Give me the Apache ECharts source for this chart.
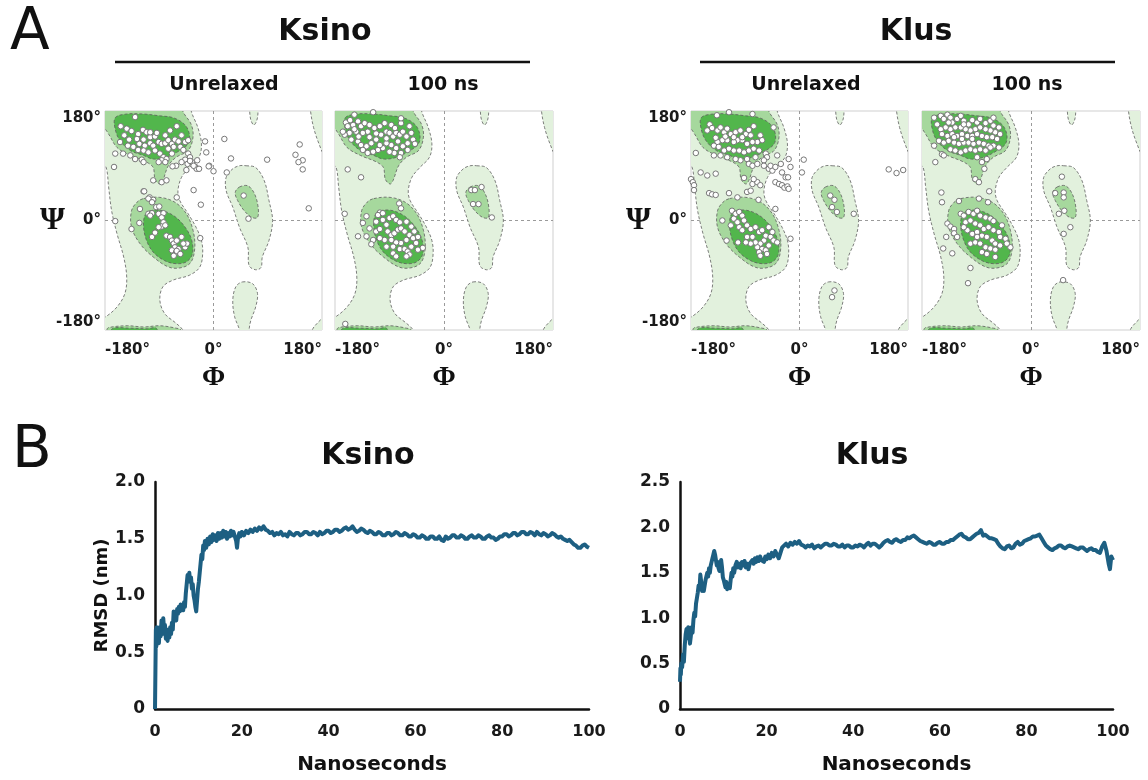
<!DOCTYPE html>
<html>
<head>
<meta charset="utf-8">
<script src="https://cdn.jsdelivr.net/npm/echarts@6.0.0/dist/echarts.min.js"></script>
<style>
  html, body { margin: 0; padding: 0; background: #fff; }
  #chart { width: 1148px; height: 780px; }
</style>
</head>
<body>
<div id="chart"></div>
<script>
// ---- axis ticks ----
const angleTicks = [-180, 0, 180];
const rmsdKsinoTicks = [0, 0.5, 1.0, 1.5, 2.0];
const rmsdKlusTicks = [0, 0.5, 1.0, 1.5, 2.0, 2.5];
const timeTicks = [0, 20, 40, 60, 80, 100];

// ---- Ramachandran background regions, [phi, psi] outlines in degrees ----
const allowedRegions = [
  [[-195,195],[-37,195],[-37,180],[-26,153],[-20,126],[-24,104],[-40,87],[-53,71],[-59,49],[-56,33],[-42,11],[-29,-11],[-20,-33],[-18,-55],[-23,-77],[-40,-90],[-67,-98],[-84,-109],[-89,-131],[-81,-153],[-62,-169],[-51,-180],[-48,-195],[-195,-195],[-195,-165],[-180,-159],[-160,-142],[-147,-120],[-144,-93],[-149,-60],[-160,-22],[-169,16],[-174,55],[-178,87],[-186,96]],
  [[161,195],[161,180],[166,153],[175,126],[185,105],[195,100],[195,195]],
  [[164,-195],[164,-180],[172,-169],[185,-158],[195,-158],[195,-195]],
  [[60,195],[60,180],[62,165],[67,157],[72,165],[74,180],[74,195]],
  [[54,90],[70,87],[84,66],[92,33],[98,0],[92,-33],[81,-60],[79,-77],[70,-81],[59,-74],[57,-44],[43,-11],[32,22],[21,49],[21,71],[32,85],[43,90]],
  [[48,-101],[65,-104],[73,-120],[70,-142],[62,-164],[59,-180],[59,-195],[43,-195],[43,-180],[35,-158],[32,-131],[37,-109]]
];
const favoredRegions = [
  [[-195,195],[-51,195],[-51,180],[-37,158],[-34,137],[-42,115],[-62,104],[-75,90],[-84,66],[-89,60],[-97,68],[-100,87],[-111,96],[-138,107],[-160,120],[-174,142],[-182,152],[-195,152]],
  [[-116,36],[-89,38],[-64,30],[-45,11],[-34,-16],[-31,-44],[-37,-68],[-51,-77],[-73,-77],[-100,-60],[-122,-38],[-136,-11],[-136,16],[-127,30]],
  [[-177,-195],[-177,-180],[-174,-176],[-143,-173],[-116,-175],[-89,-173],[-62,-177],[-54,-180],[-54,-195]],
  [[43,55],[57,57],[68,44],[74,22],[73,5],[64,5],[51,16],[40,33],[36,46]]
];
const coreRegions = [
  [[-163,169],[-144,175],[-116,175],[-89,172],[-67,169],[-48,158],[-40,142],[-42,126],[-56,115],[-78,104],[-100,101],[-116,107],[-138,115],[-155,131],[-163,150]],
  [[-105,16],[-84,16],[-62,5],[-45,-14],[-36,-33],[-35,-55],[-45,-68],[-62,-71],[-81,-66],[-100,-52],[-111,-33],[-116,-11],[-114,8]],
  [[-170,-195],[-168,-178],[-140,-177],[-110,-178],[-95,-177],[-92,-195]]
];

// ---- backbone dihedrals [phi, psi] per structure ----
const ksinoUnrelaxed = [
  [-130,170],[-154,155],[-144,151],[-148,140],[-136,147],[-125,142],[-117,149],[-111,145],[-127,134],[-116,133],
  [-105,137],[-97,138],[-123,126],[-114,123],[-105,127],[-100,123],[-91,129],[-86,126],[-80,127],[-75,132],
  [-69,126],[-64,133],[-58,130],[-72,148],[-61,155],[-53,140],[-47,129],[-133,121],[-125,116],[-116,115],
  [-108,112],[-97,115],[-89,110],[-83,104],[-78,101],[-86,99],[-91,96],[-80,96],[-69,110],[-66,121],
  [-55,121],[-50,116],[-42,110],[-39,104],[-47,100],[-53,96],[-43,93],[-36,96],[-30,88],[-28,85],
  [-62,90],[-68,89],[-45,83],[-163,110],[-150,110],[-138,107],[-130,101],[-119,100],[-116,96],[-165,88],
  [-100,66],[-86,63],[-78,66],[-142,123],[-155,129],[-75,118],[-140,133],[-105,145],[-94,144],[-80,140],
  [-42,132],[18,134],[-14,130],[29,102],[89,100],[143,125],[136,108],[148,99],[141,96],[148,84],
  [158,20],[22,79],[0,81],[-7,90],[-12,112],[-33,50],[-21,26],[-61,38],[50,41],[58,3],
  [-22,-29],[-163,-1],[-116,48],[-106,38],[-100,34],[-27,99],[-33,90],[-24,85],[-8,89],[-39,98],
  [-115,48],[-122,19],[-108,11],[-102,12],[-105,8],[-91,11],[-83,12],[-86,5],[-83,-3],[-86,-10],
  [-136,-14],[-123,-4],[-102,-27],[-97,-20],[-78,-25],[-72,-27],[-69,-33],[-66,-38],[-61,-33],[-64,-44],
  [-58,-47],[-69,-49],[-62,-52],[-53,-27],[-47,-44],[-80,-8],[-91,-11],[-95,22],[-90,23],[-108,36],
  [-102,30],[-61,-50],[-55,-55],[-66,-58],[-44,-38],[-50,-38]
];
const ksino100ns = [
  [-117,178],[-148,174],[-162,161],[-155,165],[-150,157],[-142,163],[-137,155],[-131,160],[-123,157],[-115,152],
  [-126,146],[-134,144],[-145,146],[-156,144],[-164,141],[-167,146],[-153,133],[-142,130],[-137,124],[-128,122],
  [-120,127],[-112,133],[-104,141],[-95,146],[-90,144],[-84,138],[-79,144],[-73,141],[-68,146],[-71,160],
  [-71,168],[-57,155],[-54,144],[-51,133],[-48,126],[-60,127],[-68,122],[-79,119],[-87,124],[-95,127],
  [-101,119],[-109,116],[-117,113],[-126,111],[-134,116],[-123,137],[-106,155],[-98,160],[-87,157],[-81,152],
  [-76,130],[-71,111],[-82,111],[-90,113],[-73,104],[-106,124],[-95,135],[-148,150],[-159,155],[-141,138],
  [-62,138],[-60,116],[-112,143],
  [-159,84],[-137,71],[-164,11],[-163,-170],[-74,28],[-71,20],[-142,-26],
  [45,50],[51,50],[62,55],[48,27],[57,27],[79,5],
  [-106,13],[-109,9],[-101,12],[-128,7],[-134,-4],[-123,-13],[-128,-26],[-117,-32],[-120,-39],[-112,-18],
  [-106,-14],[-101,1],[-95,-7],[-90,4],[-84,7],[-79,1],[-73,-3],[-93,-18],[-87,-24],[-82,-21],
  [-76,-15],[-71,-13],[-65,-18],[-57,-24],[-51,-29],[-62,-32],[-71,-37],[-79,-36],[-84,-43],[-73,-47],
  [-65,-47],[-60,-51],[-54,-43],[-46,-37],[-43,-48],[-57,-56],[-62,-59],[-35,-45],[-84,-54],[-98,-32],
  [-95,-43],[-106,-29],[-112,-2],[-87,-32],[-49,-18],[-54,-10],[-62,-2],[-43,-27],[-79,-59]
];
const klusUnrelaxed = [
  [-137,173],[-117,178],[-78,175],[-149,158],[-145,152],[-153,148],[-136,148],[-131,153],[-125,145],[-120,151],
  [-114,142],[-106,145],[-98,148],[-89,142],[-81,140],[-76,155],[-65,140],[-62,132],[-70,129],[-78,129],
  [-87,126],[-95,132],[-103,132],[-109,129],[-120,132],[-128,132],[-136,129],[-142,123],[-134,121],[-125,115],
  [-117,118],[-109,115],[-100,115],[-92,112],[-84,115],[-76,118],[-67,115],[-56,110],[-54,104],[-59,99],
  [-73,104],[-87,101],[-98,99],[-106,101],[-120,104],[-131,107],[-142,107],[-43,153],[-95,137],[-109,137],
  [-123,138],[-84,93],[-78,90],[-70,93],[-59,90],[-84,149],[-139,136],
  [-172,111],[-164,79],[-153,74],[-139,77],[-180,68],[-177,63],[-175,58],[-175,50],[-150,45],[-145,43],
  [-139,42],[-117,45],[-103,38],[-87,47],[-81,49],[-78,60],[-70,63],[-65,58],[-76,68],[-92,70],
  [-51,85],[-45,82],[-48,90],[-40,88],[-37,107],[-31,93],[-29,79],[-18,101],[-15,88],[-23,71],
  [-19,71],[-40,63],[-34,60],[-29,58],[-25,54],[-20,56],[-18,52],[-68,34],[-40,19],[-15,-30],
  [7,100],[4,79],[148,84],[161,78],[172,83],[90,11],
  [51,41],[58,34],[54,22],[62,14],[58,-115],[54,-126],
  [-112,16],[-106,11],[-100,14],[-109,3],[-103,-3],[-95,8],[-92,0],[-100,-11],[-95,-16],[-87,-8],
  [-81,-14],[-73,-11],[-67,-19],[-62,-16],[-56,-25],[-51,-11],[-48,-27],[-43,-33],[-37,-36],[-59,-33],
  [-65,-38],[-70,-44],[-62,-47],[-56,-49],[-67,-52],[-73,-36],[-81,-38],[-87,-27],[-89,-36],[-78,-27],
  [-54,-55],[-128,0],[-121,-33],[-102,-36],[-114,-8],[-51,-41],[-65,-58],[-45,-19]
];
const klus100ns = [
  [-160,169],[-149,172],[-144,167],[-138,174],[-133,169],[-130,161],[-122,167],[-116,172],[-111,164],[-103,158],
  [-97,165],[-89,161],[-84,167],[-75,160],[-67,164],[-62,156],[-53,153],[-59,145],[-67,148],[-75,150],
  [-84,153],[-92,150],[-100,148],[-108,150],[-116,153],[-125,153],[-133,150],[-141,153],[-149,150],[-155,158],
  [-147,142],[-138,139],[-130,142],[-122,139],[-114,142],[-105,139],[-97,139],[-89,142],[-81,139],[-73,137],
  [-64,137],[-56,134],[-51,142],[-152,131],[-144,128],[-136,131],[-127,128],[-119,126],[-111,128],[-103,128],
  [-95,126],[-86,128],[-78,126],[-70,123],[-62,123],[-53,120],[-133,117],[-125,115],[-116,112],[-108,115],
  [-100,117],[-92,115],[-84,117],[-75,115],[-67,120],[-160,123],[-147,109],[-158,96],[-144,107],[-89,104],
  [-81,96],[-73,101],[-77,85],[-92,68],[-86,63],[-127,137],[-111,158],[-136,161],[-62,169],[-97,134],
  [-114,134],
  [-148,46],[-147,30],[-69,48],[-86,36],[-71,30],[-119,32],[-140,-27],[-145,-46],[-130,-54],[-100,-78],
  [-104,-103],[51,72],[65,-11],[54,-22],[53,-98],
  [40,45],[54,46],[54,38],[46,11],[55,16],
  [-138,-5],[-133,-10],[-127,-14],[-127,-21],[-122,-27],[-116,11],[-111,8],[-103,14],[-95,11],[-89,16],
  [-84,8],[-75,5],[-67,3],[-62,-1],[-108,-3],[-100,0],[-92,-5],[-84,-8],[-78,-14],[-70,-11],
  [-62,-16],[-53,-19],[-51,-27],[-42,-30],[-34,-44],[-105,-16],[-97,-22],[-89,-19],[-81,-25],[-73,-27],
  [-64,-33],[-59,-38],[-51,-41],[-40,-38],[-100,-38],[-92,-36],[-84,-38],[-75,-44],[-67,-46],[-59,-48],
  [-81,-52],[-73,-55],[-59,-60],[-89,-27],[-111,-11],[-48,-8]
];

// ---- backbone RMSD over the trajectory, [time (ns), RMSD (nm)] ----
const ksinoRmsd = [
  [0,0],[0.1,0.35],[0.2,0.7],[0.3,0.55],[0.4,0.72],[0.5,0.62],[0.7,0.68],[0.9,0.58],[1.1,0.72],[1.3,0.64],
  [1.5,0.78],[1.7,0.66],[1.9,0.8],[2.1,0.7],[2.3,0.74],[2.5,0.62],[2.7,0.68],[2.9,0.6],[3.1,0.7],[3.3,0.63],
  [3.5,0.72],[3.7,0.66],[3.9,0.76],[4.1,0.7],[4.3,0.86],[4.5,0.8],[4.7,0.84],[4.9,0.78],[5.1,0.88],[5.3,0.84],
  [5.5,0.9],[5.7,0.86],[5.9,0.92],[6.1,0.88],[6.3,0.91],[6.5,0.87],[6.7,0.94],[6.9,0.9],[7.1,1.02],[7.3,1.1],
  [7.5,1.18],[7.7,1.14],[7.9,1.2],[8.1,1.12],[8.3,1.16],[8.5,1.06],[8.7,1.1],[8.9,1.0],[9.1,0.96],[9.3,0.9],
  [9.5,0.86],[9.7,0.96],[9.9,1.06],[10.1,1.12],[10.3,1.2],[10.5,1.28],[10.7,1.36],[10.9,1.32],[11.1,1.44],[11.3,1.4],
  [11.5,1.48],[11.8,1.42],[12.1,1.5],[12.4,1.45],[12.7,1.52],[13,1.47],[13.3,1.54],[13.6,1.49],[13.9,1.53],[14.2,1.48],
  [14.5,1.55],[14.8,1.5],[15.1,1.55],[15.4,1.51],[15.7,1.57],[16,1.52],[16.3,1.56],[16.6,1.5],[16.9,1.55],[17.2,1.52],
  [17.5,1.57],[17.8,1.53],[18.1,1.56],[18.4,1.52],[18.7,1.48],[18.9,1.42],[19.1,1.5],[19.4,1.55],[19.7,1.52],[20,1.56],
  [20.5,1.53],[21,1.57],[21.5,1.55],[22,1.58],[22.5,1.56],[23,1.59],[23.5,1.57],[24,1.6],[24.5,1.58],[25,1.61],
  [25.5,1.58],[26,1.57],[26.5,1.55],[27,1.56],[27.5,1.53],[28,1.55],[28.5,1.54],[29,1.56],[29.5,1.53],[30,1.54],
  [30.5,1.52],[31,1.56],[31.5,1.54],[32,1.53],[32.5,1.55],[33,1.55],[33.5,1.53],[34,1.54],[34.5,1.56],[35,1.56],
  [35.5,1.54],[36,1.54],[36.5,1.56],[37,1.55],[37.5,1.53],[38,1.56],[38.5,1.54],[39,1.55],[39.5,1.57],[40,1.57],
  [40.5,1.55],[41,1.56],[41.5,1.58],[42,1.58],[42.5,1.56],[43,1.57],[43.5,1.59],[44,1.6],[44.5,1.58],[45,1.59],
  [45.5,1.61],[46,1.58],[46.5,1.56],[47,1.57],[47.5,1.59],[48,1.58],[48.5,1.56],[49,1.55],[49.5,1.57],[50,1.56],
  [50.5,1.54],[51,1.54],[51.5,1.56],[52,1.55],[52.5,1.53],[53,1.53],[53.5,1.55],[54,1.55],[54.5,1.53],[55,1.54],
  [55.5,1.56],[56,1.55],[56.5,1.53],[57,1.53],[57.5,1.55],[58,1.54],[58.5,1.52],[59,1.52],[59.5,1.54],[60,1.53],
  [60.5,1.51],[61,1.51],[61.5,1.53],[62,1.52],[62.5,1.5],[63,1.5],[63.5,1.52],[64,1.52],[64.5,1.5],[65,1.5],
  [65.5,1.52],[66,1.49],[66.5,1.48],[67,1.52],[67.5,1.5],[68,1.51],[68.5,1.53],[69,1.53],[69.5,1.51],[70,1.51],
  [70.5,1.53],[71,1.52],[71.5,1.5],[72,1.5],[72.5,1.52],[73,1.53],[73.5,1.51],[74,1.51],[74.5,1.53],[75,1.52],
  [75.5,1.5],[76,1.5],[76.5,1.52],[77,1.53],[77.5,1.51],[78,1.51],[78.5,1.49],[79,1.5],[79.5,1.52],[80,1.52],
  [80.5,1.54],[81,1.54],[81.5,1.52],[82,1.53],[82.5,1.55],[83,1.55],[83.5,1.53],[84,1.54],[84.5,1.56],[85,1.56],
  [85.5,1.54],[86,1.54],[86.5,1.56],[87,1.55],[87.5,1.53],[88,1.56],[88.5,1.54],[89,1.53],[89.5,1.55],[90,1.54],
  [90.5,1.52],[91,1.53],[91.5,1.55],[92,1.54],[92.5,1.52],[93,1.51],[93.5,1.52],[94,1.5],[94.5,1.49],[95,1.48],
  [95.5,1.49],[96,1.47],[96.5,1.45],[97,1.44],[97.5,1.42],[98,1.42],[98.5,1.44],[99,1.45],[99.5,1.43],[100,1.42]
];
const klusRmsd = [
  [0,0.3],[0.1,0.45],[0.2,0.38],[0.3,0.5],[0.5,0.46],[0.7,0.6],[0.9,0.52],[1.1,0.7],[1.3,0.82],[1.5,0.88],
  [1.7,0.78],[1.9,0.9],[2.1,0.84],[2.3,0.72],[2.5,0.8],[2.7,0.9],[2.9,0.84],[3.1,0.98],[3.3,1.06],[3.5,1.02],
  [3.7,1.16],[3.9,1.22],[4.1,1.28],[4.3,1.36],[4.5,1.32],[4.7,1.48],[4.9,1.4],[5.1,1.3],[5.3,1.38],[5.5,1.3],
  [5.7,1.36],[5.9,1.42],[6.1,1.4],[6.3,1.5],[6.5,1.46],[6.7,1.55],[6.9,1.5],[7.1,1.58],[7.3,1.62],[7.5,1.66],
  [7.7,1.7],[7.9,1.74],[8.1,1.7],[8.3,1.64],[8.5,1.58],[8.7,1.62],[8.9,1.55],[9.1,1.52],[9.3,1.58],[9.5,1.64],
  [9.7,1.56],[9.9,1.45],[10.1,1.42],[10.3,1.38],[10.5,1.34],[10.7,1.4],[10.9,1.32],[11.1,1.3],[11.3,1.36],[11.5,1.33],
  [11.7,1.42],[11.9,1.5],[12.1,1.46],[12.3,1.55],[12.5,1.5],[12.8,1.58],[13.1,1.62],[13.4,1.56],[13.7,1.6],[14,1.55],
  [14.3,1.62],[14.6,1.58],[14.9,1.63],[15.2,1.56],[15.5,1.6],[15.8,1.54],[16.1,1.6],[16.4,1.58],[16.7,1.64],[17,1.6],
  [17.3,1.66],[17.6,1.62],[17.9,1.67],[18.2,1.63],[18.5,1.68],[18.8,1.64],[19.1,1.66],[19.4,1.62],[19.7,1.68],[20,1.65],
  [20.4,1.7],[20.8,1.66],[21.2,1.72],[21.6,1.68],[22,1.74],[22.4,1.7],[22.8,1.66],[23.2,1.72],[23.6,1.78],[24,1.8],
  [24.5,1.82],[25,1.79],[25.5,1.83],[26,1.81],[26.5,1.84],[27,1.82],[27.5,1.85],[28,1.81],[28.5,1.8],[29,1.78],
  [29.5,1.8],[30,1.79],[30.5,1.81],[31,1.77],[31.5,1.79],[32,1.8],[32.5,1.78],[33,1.8],[33.5,1.82],[34,1.82],
  [34.5,1.8],[35,1.8],[35.5,1.82],[36,1.81],[36.5,1.79],[37,1.79],[37.5,1.81],[38,1.78],[38.5,1.8],[39,1.8],
  [39.5,1.78],[40,1.78],[40.5,1.8],[41,1.79],[41.5,1.81],[42,1.8],[42.5,1.78],[43,1.81],[43.5,1.83],[44,1.8],
  [44.5,1.82],[45,1.82],[45.5,1.8],[46,1.78],[46.5,1.8],[47,1.83],[47.5,1.85],[48,1.86],[48.5,1.84],[49,1.83],
  [49.5,1.86],[50,1.87],[50.5,1.85],[51,1.84],[51.5,1.86],[52,1.86],[52.5,1.89],[53,1.88],[53.5,1.9],[54,1.91],
  [54.5,1.89],[55,1.87],[55.5,1.85],[56,1.84],[56.5,1.83],[57,1.82],[57.5,1.84],[58,1.83],[58.5,1.81],[59,1.81],
  [59.5,1.83],[60,1.84],[60.5,1.82],[61,1.82],[61.5,1.84],[62,1.84],[62.5,1.86],[63,1.86],[63.5,1.88],[64,1.9],
  [64.5,1.92],[65,1.93],[65.5,1.9],[66,1.89],[66.5,1.87],[67,1.87],[67.5,1.89],[68,1.91],[68.5,1.93],[69,1.94],
  [69.5,1.97],[70,1.91],[70.5,1.92],[71,1.9],[71.5,1.88],[72,1.88],[72.5,1.87],[73,1.86],[73.5,1.82],[74,1.79],
  [74.5,1.77],[75,1.76],[75.5,1.79],[76,1.8],[76.5,1.77],[77,1.78],[77.5,1.82],[78,1.84],[78.5,1.81],[79,1.82],
  [79.5,1.85],[80,1.86],[80.5,1.87],[81,1.88],[81.5,1.9],[82,1.9],[82.5,1.91],[83,1.92],[83.5,1.88],[84,1.84],
  [84.5,1.8],[85,1.78],[85.5,1.76],[86,1.75],[86.5,1.77],[87,1.78],[87.5,1.8],[88,1.8],[88.5,1.78],[89,1.77],
  [89.5,1.79],[90,1.8],[90.5,1.79],[91,1.78],[91.5,1.77],[92,1.76],[92.5,1.78],[93,1.78],[93.5,1.76],[94,1.74],
  [94.5,1.76],[95,1.77],[95.5,1.75],[96,1.75],[96.5,1.73],[97,1.72],[97.5,1.79],[98,1.83],[98.5,1.74],[99,1.6],
  [99.3,1.54],[99.6,1.68],[100,1.64]
];

// ---- styling ----
const FONT = '"DejaVu Sans", "Liberation Sans", Arial, sans-serif';
const GREEK = '"Liberation Serif", "Times New Roman", serif';
const regionColors = { allowed: '#e2f1dd', favored: '#a6d89d', core: '#52b64c' };
const lineColor = '#1d5f82';

const regionList = []
  .concat(allowedRegions.map(p => ({ pts: p, color: regionColors.allowed })))
  .concat(favoredRegions.map(p => ({ pts: p, color: regionColors.favored })))
  .concat(coreRegions.map(p => ({ pts: p, color: regionColors.core })));

function renderRegion(params, api) {
  const r = regionList[api.value(2)];
  return {
    type: 'polygon',
    shape: { points: r.pts.map(p => api.coord(p)), smooth: 0.35 },
    style: { fill: r.color, stroke: '#5e5e5e', lineWidth: 0.8, lineDash: [3, 2] }
  };
}

const ramaPanels = [
  { box: { left: 105, top: 111, width: 217, height: 219 }, points: ksinoUnrelaxed, yLabels: true },
  { box: { left: 335, top: 111, width: 218, height: 219 }, points: ksino100ns, yLabels: false },
  { box: { left: 691, top: 111, width: 217, height: 219 }, points: klusUnrelaxed, yLabels: true },
  { box: { left: 922, top: 111, width: 218, height: 219 }, points: klus100ns, yLabels: false }
];
const rmsdPanels = [
  { box: { left: 155, top: 482, width: 434, height: 227 }, data: ksinoRmsd, ticks: rmsdKsinoTicks, yName: 'RMSD (nm)' },
  { box: { left: 680, top: 482, width: 433, height: 227 }, data: klusRmsd, ticks: rmsdKlusTicks, yName: '' }
];

const grid = [], xAxis = [], yAxis = [], series = [];
const degLabel = v => v + '\u00b0';
const tickLabelStyle = { fontFamily: FONT, fontWeight: 'bold', fontSize: 15, color: '#1a1a1a' };

ramaPanels.forEach((p, i) => {
  grid.push(Object.assign({ show: true, borderColor: '#cfcfcf', borderWidth: 1, backgroundColor: '#fff', outerBoundsMode: 'none' }, p.box));
  xAxis.push({
    gridIndex: i, type: 'value', min: angleTicks[0], max: angleTicks[angleTicks.length - 1],
    interval: angleTicks[1] - angleTicks[0],
    axisLine: { show: false }, axisTick: { show: false }, splitLine: { show: false },
    axisLabel: Object.assign({ formatter: degLabel, margin: 13, showMinLabel: true, showMaxLabel: true,
      alignMinLabel: 'left', alignMaxLabel: 'right' }, tickLabelStyle),
    name: '\u03a6', nameLocation: 'middle', nameGap: 34,
    nameTextStyle: { fontFamily: GREEK, fontWeight: 'bold', fontSize: 28, color: '#111' }
  });
  yAxis.push({
    gridIndex: i, type: 'value', min: angleTicks[0], max: angleTicks[angleTicks.length - 1],
    interval: angleTicks[1] - angleTicks[0],
    axisLine: { show: false }, axisTick: { show: false }, splitLine: { show: false },
    axisLabel: Object.assign({ show: p.yLabels, formatter: degLabel, margin: 4, showMinLabel: true, showMaxLabel: true,
      verticalAlignMinLabel: 'bottom', verticalAlignMaxLabel: 'top' }, tickLabelStyle),
    name: p.yLabels ? '\u03a8' : '', nameLocation: 'middle', nameRotate: 0, nameGap: 40,
    nameMoveOverlap: false,
    nameTextStyle: { fontFamily: GREEK, fontWeight: 'bold', fontSize: 32, color: '#111' }
  });
  series.push({
    type: 'custom', xAxisIndex: i, yAxisIndex: i, clip: true, silent: true,
    renderItem: renderRegion,
    data: regionList.map((r, k) => [0, 0, k])
  });
  series.push({
    type: 'scatter', xAxisIndex: i, yAxisIndex: i, silent: true,
    symbol: 'circle', symbolSize: 5.5,
    itemStyle: { color: '#ffffff', borderColor: '#777777', borderWidth: 1, opacity: 1 },
    data: p.points,
    markLine: {
      silent: true, symbol: 'none', label: { show: false },
      lineStyle: { type: [3, 3], color: '#9a9a9a', width: 1 },
      data: [{ xAxis: 0 }, { yAxis: 0 }],
      z: 1
    }
  });
});

rmsdPanels.forEach((p, j) => {
  const i = ramaPanels.length + j;
  grid.push(Object.assign({ show: false, outerBoundsMode: 'none' }, p.box));
  xAxis.push({
    gridIndex: i, type: 'value', min: timeTicks[0], max: timeTicks[timeTicks.length - 1],
    interval: timeTicks[1] - timeTicks[0],
    axisLine: { show: true, onZero: false, lineStyle: { color: '#111', width: 2.5 } },
    axisTick: { show: false }, splitLine: { show: false },
    axisLabel: Object.assign({ margin: 15, showMinLabel: true, showMaxLabel: true }, tickLabelStyle, { fontSize: 16 }),
    name: 'Nanoseconds', nameLocation: 'middle', nameGap: 46,
    nameTextStyle: { fontFamily: FONT, fontWeight: 'bold', fontSize: 20, color: '#111' }
  });
  yAxis.push({
    gridIndex: i, type: 'value', min: p.ticks[0], max: p.ticks[p.ticks.length - 1],
    interval: p.ticks[1] - p.ticks[0],
    axisLine: { show: true, onZero: false, lineStyle: { color: '#111', width: 2.5 } },
    axisTick: { show: false }, splitLine: { show: false },
    axisLabel: Object.assign({ margin: 10, showMinLabel: true, showMaxLabel: true,
      formatter: v => (v === 0 ? '0' : v.toFixed(1)) }, tickLabelStyle, { fontSize: 17 }),
    name: p.yName, nameLocation: 'middle', nameGap: 44,
    nameTextStyle: { fontFamily: FONT, fontWeight: 'bold', fontSize: 18, color: '#111' }
  });
  series.push({
    type: 'line', xAxisIndex: i, yAxisIndex: i, silent: true,
    showSymbol: false, symbol: 'none', smooth: false, clip: false,
    lineStyle: { color: lineColor, width: 4, join: 'round' },
    data: p.data
  });
});

function label(text, x, y, size, weight, align) {
  return {
    type: 'text', x: x, y: y, silent: true,
    style: { text: text, fontFamily: FONT, fontSize: size, fontWeight: weight || 'bold',
      fill: '#111', align: align || 'center', verticalAlign: 'middle' }
  };
}
function rule(x1, x2, y) {
  return { type: 'line', silent: true, shape: { x1: x1, y1: y, x2: x2, y2: y },
    style: { stroke: '#111', lineWidth: 2.5 } };
}

const graphic = [
  label('A', 10, 34, 58, 'normal', 'left'),
  label('Ksino', 325, 32, 30),
  rule(115, 530, 62),
  label('Unrelaxed', 224, 85, 19),
  label('100 ns', 443, 85, 19),
  label('Klus', 916, 32, 30),
  rule(700, 1115, 62),
  label('Unrelaxed', 806, 85, 19),
  label('100 ns', 1027, 85, 19),
  label('B', 12, 452, 58, 'normal', 'left'),
  label('Ksino', 368, 456, 30),
  label('Klus', 872, 456, 30)
];

const chart = echarts.init(document.getElementById('chart'), null, { renderer: 'canvas' });
chart.setOption({
  animation: false,
  backgroundColor: '#ffffff',
  grid: grid, xAxis: xAxis, yAxis: yAxis, series: series,
  graphic: graphic
});
</script>
</body>
</html>
